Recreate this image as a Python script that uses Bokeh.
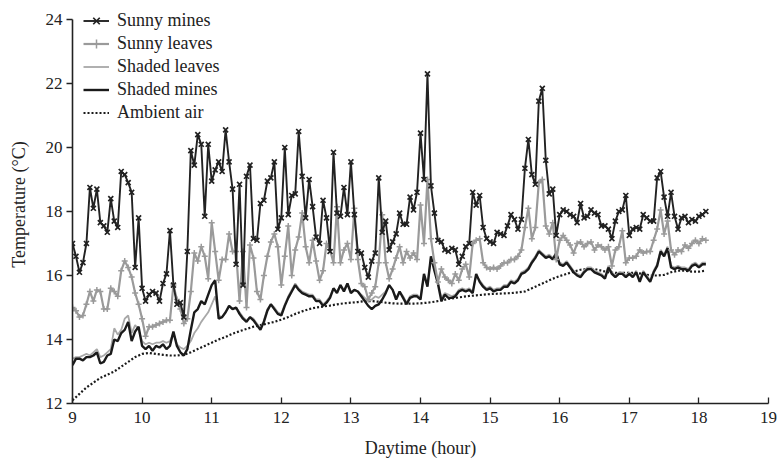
from bokeh.plotting import figure
from bokeh.models import Range1d, FixedTicker, Legend, LegendItem
from bokeh.embed import file_html
from bokeh.resources import INLINE

# Readings every 3 minutes from 9:00 to 18:06
step_hours = 0.05
start_hour = 9.0

sunny_mines = [
    17.0, 16.6, 16.1, 16.4, 17.0, 18.75, 18.1, 18.7, 17.65, 17.55,
    17.35, 18.4, 17.7, 17.5, 19.25, 19.15, 18.9, 18.6, 16.25, 17.8,
    15.6, 15.2, 15.4, 15.5, 15.45, 15.2, 15.75, 16.05, 17.4, 15.7,
    15.1, 15.15, 14.7, 16.75, 19.9, 19.45, 20.4, 20.1, 17.85, 20.1,
    18.95, 19.3, 19.55, 19.25, 20.55, 19.55, 18.7, 16.35, 18.85, 15.7,
    19.1, 19.45, 17.15, 17.1, 18.25, 18.35, 18.95, 19.05, 19.55,
    17.45, 17.8, 20.0, 17.9, 18.5, 18.55, 20.5, 19.1, 17.8, 19.0,
    18.15, 17.2, 17.0, 18.35, 17.8, 16.75, 19.85, 17.95, 17.85, 18.75,
    17.9, 19.55, 17.9, 16.75, 16.7, 16.25, 15.95, 16.45, 16.7, 19.05,
    17.35, 17.7, 16.8, 17.05, 17.3, 17.95, 17.6, 17.6, 18.45, 18.05,
    18.6, 20.45, 19.0, 22.3, 18.8, 17.95, 17.1, 17.05, 16.8, 16.75,
    16.85, 16.8, 16.35, 16.6, 16.9, 17.0, 18.6, 18.2, 18.5, 17.5,
    17.15, 17.05, 17.0, 17.35, 17.3, 17.25, 17.55, 17.9, 17.75, 17.45,
    17.75, 19.35, 20.25, 19.15, 18.85, 21.45, 21.85, 19.6, 18.55, 18.7,
    17.25, 17.9, 18.05, 18.0, 17.9, 17.85, 17.65, 18.25, 17.8, 17.85,
    18.05,
    17.95, 17.9, 17.55, 17.55, 17.45, 17.15, 17.7, 18.0, 18.05, 18.5,
    17.25, 17.45, 17.5, 17.45, 17.9, 17.8, 17.7, 17.7, 19.05, 19.25,
    18.45, 17.85, 18.6, 17.85, 17.45, 17.8, 17.85, 17.65, 17.75, 17.7,
    17.85, 17.9, 18.0,
]

sunny_leaves = [
    15.0, 14.9, 14.7, 14.75, 15.1, 15.5, 15.2, 15.55, 15.5, 14.95,
    14.95, 15.6, 15.5, 15.35, 16.15, 16.45, 16.25, 15.95, 15.45, 15.1,
    14.65, 14.1, 14.4, 14.4, 14.45, 14.5, 14.55, 14.6, 14.6, 15.7,
    15.25, 14.95, 14.5, 14.65, 15.5, 16.7, 16.45, 16.9, 16.6, 15.9,
    17.65, 16.75, 15.85, 16.5, 16.5, 17.3, 16.75, 16.75, 15.2, 16.75,
    15.0, 16.95, 16.55, 15.5, 15.25, 16.0, 16.6, 17.05, 17.3, 16.9,
    15.7, 16.6, 17.55, 16.0, 16.8, 17.2, 17.95, 16.9, 16.4, 17.1,
    16.45, 15.85, 16.15, 17.0, 16.8, 16.4, 18.15, 16.4, 16.8, 17.0,
    16.5, 18.1, 16.5, 15.75, 15.65, 15.25, 15.45, 15.65, 16.4, 17.9,
    16.4, 15.9, 16.2, 16.55, 16.9, 16.4, 16.75, 16.55, 16.7, 16.5,
    18.2, 17.0, 19.0, 17.15, 16.4, 15.8, 16.2, 15.95, 15.85, 15.75,
    16.05, 15.85, 16.2, 16.35, 15.95, 17.0, 17.1, 17.15, 16.4, 16.25,
    16.2, 16.25, 16.2, 16.3, 16.4, 16.4, 16.5, 16.5, 16.6, 16.8,
    17.5, 18.1, 17.15, 17.5, 18.9, 19.0, 17.55, 17.3, 17.65, 16.5,
    17.1, 17.25, 17.1, 16.95, 16.7, 17.0, 17.05, 16.9, 17.0, 17.05,
    16.8, 16.95, 16.9, 16.8, 16.9, 16.3, 16.8, 16.9, 17.4, 16.4,
    16.55, 16.55, 16.6, 16.8, 16.7, 16.75, 16.75, 17.1, 17.45, 18.05,
    17.3, 17.7, 16.8, 16.65, 16.8, 16.75, 16.95, 16.85, 17.0, 17.1,
    17.0, 17.15, 17.1,
]

shaded_leaves = [
    13.4, 13.45, 13.45, 13.5, 13.55, 13.5, 13.6, 13.7, 13.45, 13.5,
    13.6, 13.7, 14.35, 14.15, 14.3, 14.65, 14.75, 14.2, 14.45, 14.3,
    13.95, 13.85, 13.9, 13.85, 13.9, 13.9, 13.95, 13.9, 13.95, 14.2,
    13.85, 13.75, 13.7, 13.8, 13.95, 14.2, 14.35, 14.55, 14.7, 14.85,
    15.1, 15.35, 14.75, 14.7, 14.85, 15.05, 14.95, 15.0, 14.85, 14.7,
    14.6, 14.7, 14.65, 14.5, 14.35, 14.6, 14.95, 15.1, 15.0, 14.85,
    14.8, 15.1, 15.35, 15.55, 15.75, 15.6, 15.5, 15.45, 15.4, 15.4,
    15.25, 15.25, 15.1, 15.2, 15.35, 15.6, 15.5, 15.7, 15.55, 15.75,
    15.5, 15.55, 15.5, 15.4, 15.3, 15.2, 15.25, 15.35, 15.3, 15.4,
    15.5, 15.7, 15.55, 15.3, 15.5, 15.35, 15.15, 15.35, 15.4, 15.4,
    15.3, 16.0, 15.7, 16.55, 16.2, 15.8, 15.3, 15.45, 15.4, 15.35,
    15.4, 15.55, 15.6, 15.55, 15.6, 15.5, 16.0, 15.85, 15.7, 15.6,
    15.65, 15.55, 15.6, 15.6, 15.7, 15.7, 15.85, 15.8, 15.9, 16.1,
    16.15, 16.25, 16.45, 16.6, 16.8, 16.7, 16.6, 16.65, 16.55, 16.7,
    16.4, 16.35, 16.45, 16.3, 16.15, 16.05, 16.0, 16.15, 16.25, 16.25,
    16.15, 16.1, 16.05, 15.95, 16.3, 16.1, 16.0, 16.1, 16.1, 16.0,
    16.1, 16.0, 16.15, 15.85, 16.15, 16.0, 15.85, 16.15, 16.35, 16.8,
    16.65, 16.9, 16.3, 16.25, 16.3, 16.25, 16.25, 16.2, 16.35, 16.4,
    16.3, 16.4, 16.4,
]

shaded_mines = [
    13.2, 13.4, 13.4, 13.35, 13.45, 13.45, 13.5, 13.6, 13.25, 13.3,
    13.5, 13.55, 14.0, 13.95, 14.2, 14.3, 14.55, 13.95, 14.25, 14.4,
    13.8, 13.7, 13.8, 13.65, 13.8, 13.75, 13.85, 13.7, 13.8, 14.25,
    13.8, 13.6, 13.5, 13.7, 14.3, 14.85, 14.95, 15.2, 15.1, 15.4,
    15.7, 15.85, 14.65, 14.7, 14.85, 15.05, 14.95, 15.0, 14.8, 14.65,
    14.55, 14.7, 14.6, 14.45, 14.3, 14.55, 14.9, 15.1, 14.95, 14.8,
    14.75, 15.05, 15.3, 15.5, 15.7, 15.55, 15.45, 15.4, 15.35, 15.35,
    15.2, 15.2, 15.05, 15.15, 15.3, 15.6, 15.45, 15.7, 15.5, 15.75,
    15.45, 15.55, 15.5, 15.35, 15.2, 15.05, 14.95, 15.05, 15.1, 15.25,
    15.45, 15.7, 15.55, 15.25, 15.5, 15.3, 15.1, 15.3, 15.35, 15.35,
    15.25, 16.05, 15.65, 16.6, 16.15, 15.75, 15.2, 15.4, 15.3, 15.3,
    15.35, 15.5, 15.55, 15.5, 15.55, 15.45, 16.05, 15.8, 15.65, 15.55,
    15.6, 15.5, 15.55, 15.55, 15.65, 15.65, 15.8, 15.75, 15.85, 16.05,
    16.1, 16.2, 16.4, 16.55, 16.75, 16.65, 16.55, 16.6, 16.5, 16.7,
    16.35, 16.3, 16.4, 16.25, 16.1, 16.0, 15.95, 16.1, 16.2, 16.2,
    16.1, 16.05, 16.0, 15.9, 16.25, 16.05, 15.95, 16.05, 16.05, 15.95,
    16.05, 15.95, 16.1, 15.8, 16.1, 15.95, 15.8, 16.1, 16.3, 16.75,
    16.6, 16.85, 16.25, 16.2, 16.25, 16.2, 16.2, 16.15, 16.3, 16.35,
    16.25, 16.35, 16.35,
]

# Ambient air, every 6 minutes from 9:00 to 18:06
ambient_step = 0.1
ambient_air = [
    12.1, 12.3, 12.5, 12.65, 12.8, 12.9, 13.0, 13.15, 13.3, 13.45,
    13.55, 13.58, 13.55, 13.52, 13.5, 13.5, 13.52, 13.6, 13.7, 13.8,
    13.9, 14.0, 14.08, 14.18, 14.26, 14.33, 14.4, 14.45, 14.5, 14.55,
    14.62, 14.7, 14.8, 14.88, 14.95, 15.0, 15.03, 15.06, 15.1, 15.13,
    15.15, 15.17, 15.2, 15.2, 15.18, 15.15, 15.13, 15.12, 15.12, 15.12,
    15.13, 15.15, 15.18, 15.22, 15.27, 15.3, 15.33, 15.36, 15.38, 15.4,
    15.42, 15.43, 15.44, 15.45, 15.47, 15.5, 15.6, 15.7, 15.8, 15.9,
    15.98, 16.05, 16.12, 16.18, 16.2, 16.2, 16.15, 16.1, 16.08, 16.08,
    16.08, 16.08, 16.05, 16.0, 16.0, 16.02, 16.1, 16.15, 16.15, 16.12,
    16.12, 16.15,
]

x_ticks = [9, 10, 11, 12, 13, 14, 15, 16, 17, 18, 19]
y_ticks = [12, 14, 16, 18, 20, 22, 24]

t = [round(start_hour + step_hours * i, 2) for i in range(len(sunny_mines))]
t_amb = [round(start_hour + ambient_step * i, 2) for i in range(len(ambient_air))]

SERIF = "Liberation Serif"

# frame extends a little above 24 so the legend's first row is not clipped;
# the y axis line itself is bounded to 12..24
y_top = 12 + 399 * 12 / 385.0

p = figure(width=778, height=460, x_range=Range1d(9, 19), y_range=Range1d(12, y_top),
           output_backend="svg", toolbar_location=None,
           min_border_left=72, min_border_right=10, min_border_top=5, min_border_bottom=56)

p.xgrid.visible = False
p.ygrid.visible = False
p.outline_line_color = None
p.background_fill_color = "white"

p.xaxis.ticker = FixedTicker(ticks=x_ticks)
p.yaxis.ticker = FixedTicker(ticks=y_ticks)
p.yaxis.bounds = (12, 24)
for ax in (p.xaxis[0], p.yaxis[0]):
    ax.minor_tick_line_color = None
    ax.axis_line_color = "#222222"
    ax.axis_line_width = 1.6
    ax.major_tick_line_color = "#222222"
    ax.major_tick_line_width = 1.3
    ax.major_label_text_font = SERIF
    ax.major_label_text_font_size = "17px"
    ax.major_label_text_color = "#222222"
    ax.axis_label_text_font = SERIF
    ax.axis_label_text_font_size = "18px"
    ax.axis_label_text_font_style = "normal"
    ax.axis_label_text_color = "#222222"

p.xaxis.major_tick_in = 6
p.xaxis.major_tick_out = 0
p.xaxis.major_label_standoff = 8
p.xaxis.axis_label = "Daytime (hour)"
p.xaxis.axis_label_standoff = 12

p.yaxis.major_tick_in = 0
p.yaxis.major_tick_out = 6
p.yaxis.major_label_standoff = 4
p.yaxis.axis_label = "Temperature (°C)"
p.yaxis.axis_label_standoff = 14

r_amb = p.line(t_amb, ambient_air, line_color="#1a1a1a", line_width=2.2, line_dash="2 2")
r_shl = p.line(t, shaded_leaves, line_color="#a8a8a8", line_width=1.8)
r_shm = p.line(t, shaded_mines, line_color="#1a1a1a", line_width=2.4)
r_sl_line = p.line(t, sunny_leaves, line_color="#9a9a9a", line_width=2.2)
r_sl_pts = p.scatter(t, sunny_leaves, marker="cross", size=6, line_color="#9a9a9a", line_width=1.5)
r_sm_line = p.line(t, sunny_mines, line_color="#222222", line_width=1.9)
r_sm_pts = p.scatter(t, sunny_mines, marker="x", size=7, line_color="#222222", line_width=1.7)

legend = Legend(items=[
    LegendItem(label="Sunny mines", renderers=[r_sm_line, r_sm_pts]),
    LegendItem(label="Sunny leaves", renderers=[r_sl_line, r_sl_pts]),
    LegendItem(label="Shaded leaves", renderers=[r_shl]),
    LegendItem(label="Shaded mines", renderers=[r_shm]),
    LegendItem(label="Ambient air", renderers=[r_amb]),
], location=(11, 279))
legend.background_fill_alpha = 0
legend.border_line_color = None
legend.padding = 0
legend.margin = 0
legend.spacing = 0
legend.label_height = 23
legend.glyph_height = 23
legend.glyph_width = 26
legend.label_standoff = 8
legend.label_text_font = SERIF
legend.label_text_font_size = "18px"
legend.label_text_color = "#222222"
p.add_layout(legend, "center")

open("out.html", "w").write(file_html(p, INLINE))
